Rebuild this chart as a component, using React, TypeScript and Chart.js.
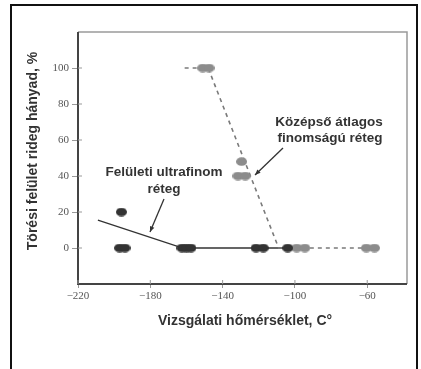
import React, { useEffect, useRef } from "react";
import { Chart, registerables } from "chart.js";

Chart.register(...registerables);

// Tick values
const xTickValues = [-220, -180, -140, -100, -60];
const yTickValues = [0, 20, 40, 60, 80, 100];

// Surface ultrafine layer (dark points)
const ultrafineTemp = [-196, -197, -194, -162.5, -160, -157.5, -121.5, -117.5, -104];
const ultrafinePct = [20, 0, 0, 0, 0, 0, 0, 0, 0];

// Medium fine layer (light points)
const mediumTemp = [-151, -147.5, -129.5, -131.5, -127.5, -99, -94.5, -60.5, -56];
const mediumPct = [100, 100, 48, 40, 40, 0, 0, 0, 0];

// Trend lines
const ultrafineLineTemp = [-209, -162, -104];
const ultrafineLinePct = [15.5, 0, 0];
const mediumLineTemp = [-161, -148, -109, -60];
const mediumLinePct = [100, 100, 0, 0];

const xTitle = "Vizsgálati hőmérséklet, C°";
const yTitle = "Törési felület rideg hányad, %";
const note1 = ["Felületi ultrafinom", "réteg"];
const note2 = ["Középső átlagos", "finomságú réteg"];

const pairs = (xs: number[], ys: number[]) => xs.map((x, i) => ({ x, y: ys[i] }));

const fmt = (v: number) => (v < 0 ? "\u2212" + Math.abs(v) : String(v));

const W = 421;
const H = 369;

function ellipse(color: string) {
  const c = document.createElement("canvas");
  c.width = 11;
  c.height = 9;
  const g = c.getContext("2d")!;
  g.fillStyle = color;
  g.beginPath();
  g.ellipse(5.5, 4.5, 5.5, 4.3, 0, 0, Math.PI * 2);
  g.fill();
  return c;
}

const decor = {
  id: "decor",
  beforeDraw(chart: any) {
    const ctx = chart.ctx;
    ctx.save();
    ctx.fillStyle = "#ffffff";
    ctx.fillRect(0, 0, W, H);
    ctx.restore();
  },
  afterDraw(chart: any) {
    const ctx = chart.ctx;
    const { left, right, top, bottom } = chart.chartArea;
    const xs = chart.scales.x;
    const ys = chart.scales.y;
    ctx.save();
    // outer frame
    ctx.strokeStyle = "#111";
    ctx.lineWidth = 2;
    ctx.beginPath();
    ctx.moveTo(11, H + 2);
    ctx.lineTo(11, 5);
    ctx.lineTo(417, 5);
    ctx.lineTo(417, H + 2);
    ctx.stroke();
    // plot box top/right
    ctx.strokeStyle = "#9a9a9a";
    ctx.lineWidth = 1.5;
    ctx.beginPath();
    ctx.moveTo(left, top);
    ctx.lineTo(right, top);
    ctx.lineTo(right, bottom);
    ctx.stroke();
    // axes
    ctx.strokeStyle = "#444";
    ctx.lineWidth = 2;
    ctx.beginPath();
    ctx.moveTo(left, top);
    ctx.lineTo(left, bottom);
    ctx.lineTo(right, bottom);
    ctx.stroke();
    // inner tick marks
    ctx.strokeStyle = "#999";
    ctx.lineWidth = 1;
    ctx.beginPath();
    xTickValues.forEach((v) => {
      const px = xs.getPixelForValue(v);
      ctx.moveTo(px, bottom);
      ctx.lineTo(px, bottom - 4);
    });
    yTickValues.forEach((v) => {
      const py = ys.getPixelForValue(v);
      ctx.moveTo(left, py);
      ctx.lineTo(left + 4, py);
    });
    ctx.stroke();

    // titles
    ctx.fillStyle = "#333";
    ctx.font = "bold 14px 'Liberation Sans', Arial, sans-serif";
    ctx.textAlign = "center";
    ctx.textBaseline = "middle";
    ctx.fillText(xTitle, 245, 321);
    ctx.save();
    ctx.translate(33, 151);
    ctx.rotate(-Math.PI / 2);
    ctx.fillText(yTitle, 0, 0);
    ctx.restore();

    // annotations
    ctx.font = "bold 13.5px 'Liberation Sans', Arial, sans-serif";
    ctx.fillText(note1[0], 164, 172);
    ctx.fillText(note1[1], 164, 189);
    ctx.fillText(note2[0], 329, 122);
    ctx.fillText(note2[1], 330, 138);

    const arrow = (x1: number, y1: number, x2: number, y2: number) => {
      ctx.strokeStyle = "#333";
      ctx.fillStyle = "#333";
      ctx.lineWidth = 1.3;
      ctx.beginPath();
      ctx.moveTo(x1, y1);
      ctx.lineTo(x2, y2);
      ctx.stroke();
      const a = Math.atan2(y2 - y1, x2 - x1);
      const L = 6;
      ctx.beginPath();
      ctx.moveTo(x2, y2);
      ctx.lineTo(x2 - L * Math.cos(a - 0.4), y2 - L * Math.sin(a - 0.4));
      ctx.lineTo(x2 - L * Math.cos(a + 0.4), y2 - L * Math.sin(a + 0.4));
      ctx.closePath();
      ctx.fill();
    };
    arrow(164, 199, 150, 232);
    arrow(283, 148, 255, 175);
    ctx.restore();
  },
};

export default function App() {
  const ref = useRef<HTMLCanvasElement>(null);
  useEffect(() => {
    if (!ref.current) return;
    const darkDot = ellipse("#333");
    const lightDot = ellipse("#8c8c8c");
    const chart = new Chart(ref.current, {
      type: "scatter",
      data: {
        datasets: [
          {
            label: "medium line",
            data: pairs(mediumLineTemp, mediumLinePct),
            showLine: true,
            borderColor: "#7a7a7a",
            borderWidth: 1.6,
            borderDash: [4, 4],
            pointRadius: 0,
            order: 3,
          },
          {
            label: "ultrafine line",
            data: pairs(ultrafineLineTemp, ultrafineLinePct),
            showLine: true,
            borderColor: "#333",
            borderWidth: 1.3,
            pointRadius: 0,
            order: 4,
          },
          {
            label: "medium",
            data: pairs(mediumTemp, mediumPct),
            pointStyle: lightDot,
            pointRadius: 5,
            order: 2,
          },
          {
            label: "ultrafine",
            data: pairs(ultrafineTemp, ultrafinePct),
            pointStyle: darkDot,
            pointRadius: 5,
            order: 1,
          },
        ],
      },
      options: {
        responsive: false,
        animation: false,
        layout: { padding: { left: 0, top: 32, right: 14, bottom: 0 } },
        plugins: { legend: { display: false }, tooltip: { enabled: false } },
        scales: {
          x: {
            type: "linear",
            min: -220,
            max: -38,
            afterBuildTicks: (s: any) => {
              s.ticks = xTickValues.map((v) => ({ value: v }));
            },
            afterFit: (s: any) => {
              s.height = H - 284;
            },
            grid: { drawOnChartArea: false, color: "#999", tickLength: 4 },
            border: { display: false },
            ticks: {
              padding: 2,
              color: "#555",
              font: { family: "'Liberation Serif', serif", size: 11 },
              callback: (v: any) => fmt(Number(v)),
              maxRotation: 0,
            },
          },
          y: {
            type: "linear",
            min: -20,
            max: 120,
            afterBuildTicks: (s: any) => {
              s.ticks = yTickValues.map((v) => ({ value: v }));
            },
            afterFit: (s: any) => {
              s.width = 78;
            },
            grid: { drawOnChartArea: false, color: "#999", tickLength: 6 },
            border: { display: false },
            ticks: {
              padding: 3,
              color: "#555",
              font: { family: "'Liberation Serif', serif", size: 11 },
              callback: (v: any) => fmt(Number(v)),
            },
          },
        },
      },
      plugins: [decor],
    });
    return () => chart.destroy();
  }, []);
  return (
    <div style={{ position: "absolute", left: 0, top: 0, width: W, height: H }}>
      <canvas ref={ref} width={W} height={H} style={{ width: W, height: H, display: "block" }} />
    </div>
  );
}
